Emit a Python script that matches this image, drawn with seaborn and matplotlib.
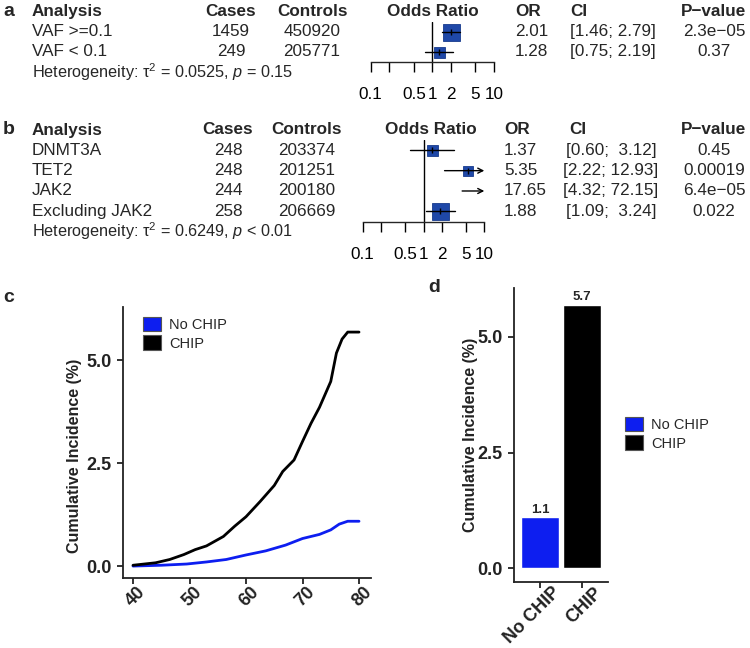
import numpy as np
import pandas as pd
import matplotlib
matplotlib.use("Agg")
import matplotlib.pyplot as plt
import matplotlib.transforms as mtransforms
from matplotlib.patches import Patch
from matplotlib.ticker import NullLocator
import seaborn as sns

# ===========================================================================
# DATA
# ===========================================================================
# panel a: forest plot by VAF
a_labels = ["VAF >=0.1", "VAF < 0.1"]
a_cases = [1459, 249]
a_controls = [450920, 205771]
a_or = [2.01, 1.28]
a_lo = [1.46, 0.75]
a_hi = [2.79, 2.19]
a_p = ["2.3e\u221205", "0.37"]
a_tau2 = 0.0525
a_phet = "= 0.15"

# panel b: forest plot by gene
b_labels = ["DNMT3A", "TET2", "JAK2", "Excluding JAK2"]
b_cases = [248, 248, 244, 258]
b_controls = [203374, 201251, 200180, 206669]
b_or = [1.37, 5.35, 17.65, 1.88]
b_lo = [0.60, 2.22, 4.32, 1.09]
b_hi = [3.12, 12.93, 72.15, 3.24]
b_p = ["0.45", "0.00019", "6.4e\u221205", "0.022"]
b_tau2 = 0.6249
b_phet = "< 0.01"

or_ticks = [0.1, 0.2, 0.5, 1, 2, 5, 10]
or_ticklabels = ["0.1", "", "0.5", "1", "2", "5", "10"]

# panel c: cumulative incidence curves
groups = ["No CHIP", "CHIP"]
age_nochip = [40, 45, 49.5, 53, 56.5, 60, 63.5, 67, 70, 73, 75, 76.5, 78, 80]
inc_nochip = [0.0, 0.02, 0.05, 0.10, 0.16, 0.27, 0.37, 0.51, 0.67, 0.77, 0.88, 1.02, 1.09, 1.09]
age_chip = [40, 44, 46.5, 49, 51, 53, 56, 58, 60, 62.5, 65, 66.5, 68.5, 70, 71.5, 73, 75, 76, 77, 78, 80]
inc_chip = [0.02, 0.08, 0.16, 0.28, 0.40, 0.49, 0.72, 0.97, 1.20, 1.57, 1.96, 2.30, 2.58,
            3.03, 3.47, 3.86, 4.49, 5.18, 5.52, 5.69, 5.69]
c_xticks = [40, 50, 60, 70, 80]
inc_ticks = [0.0, 2.5, 5.0]

# panel d: cumulative incidence at 80
bar_values = [1.1, 5.7]

# ===========================================================================
# STYLE
# ===========================================================================
sns.set_theme(style="ticks")
plt.rcParams["font.family"] = ["Liberation Sans", "DejaVu Sans"]
plt.rcParams["mathtext.fontset"] = "custom"
plt.rcParams["mathtext.rm"] = "Liberation Sans"
plt.rcParams["mathtext.it"] = "Liberation Sans:italic"
plt.rcParams["mathtext.bf"] = "Liberation Sans:bold"

BLUE = "#0d1ef0"
BOX = "#1f48a8"
BOX_EDGE = "#173a8c"
FS = 12.3
a_box_px = [17, 11]
b_box_px = [11, 10.5, 11, 17]

W, H = 750, 648
fig = plt.figure(figsize=(W / 100, H / 100), dpi=100)


def px_rect(x0, y0, x1, y1):
    return [x0 / W, 1 - y1 / H, (x1 - x0) / W, (y1 - y0) / H]


canvas = fig.add_axes([0, 0, 1, 1])
canvas.set_xlim(0, W)
canvas.set_ylim(H, 0)
canvas.axis("off")


def ci_strings(lo, hi):
    w = max(len(f"{h:.2f}") for h in hi)
    return [f"[{l:.2f}; {h:>{w}.2f}]" for l, h in zip(lo, hi)]


def table(y0, pitch, col, labels, cases, controls, est, lo, hi, pvals, tau2, phet):
    bold = dict(fontsize=FS, fontweight="bold", va="center")
    canvas.text(col["label"], y0, "Analysis", ha="left", **bold)
    canvas.text(col["cases"], y0, "Cases", ha="center", **bold)
    canvas.text(col["controls"], y0, "Controls", ha="center", **bold)
    canvas.text(col["forest"], y0, "Odds Ratio", ha="center", **bold)
    canvas.text(col["or"], y0, "OR", ha="left", **bold)
    canvas.text(col["ci_head"], y0, "CI", ha="left", **bold)
    canvas.text(col["p"], y0, "P\u2212value", ha="center", **bold)
    reg = dict(fontsize=FS, va="center")
    for i, (lab, ca, co, e, ci, p) in enumerate(zip(labels, cases, controls, est,
                                                     ci_strings(lo, hi), pvals)):
        y = y0 + pitch * (i + 1)
        canvas.text(col["label"], y, lab, ha="left", **reg)
        canvas.text(col["cases"], y, str(ca), ha="center", **reg)
        canvas.text(col["controls"], y, str(co), ha="center", **reg)
        canvas.text(col["or"], y, f"{e:.2f}", ha="left", **reg)
        canvas.text(col["ci"], y, ci, ha="center", **reg)
        canvas.text(col["p"], y, p, ha="center", **reg)
    y = y0 + pitch * (len(labels) + 1)
    canvas.text(col["label"], y, f"Heterogeneity: \u03c4$^2$ = {tau2:.4f}, $p$ {phet}",
                ha="left", fontsize=FS - 0.6, va="center")


def forest(rect, n_rows, base_row, est, lo, hi, box_px):
    ax = fig.add_axes(rect)
    ax.patch.set_alpha(0)
    ax.set_xscale("log")
    ax.set_xlim(0.1, 10)
    ax.set_ylim(base_row, 0.5)
    rows = np.arange(1, n_rows + 1)
    for r, e, l, h, s in zip(rows, est, lo, hi, box_px):
        l_c, h_c = max(l, 0.1), min(h, 10)
        if h > 10:
            ax.annotate("", xy=(10, r), xytext=(l_c, r),
                        arrowprops=dict(arrowstyle="->", lw=1, color="black",
                                        shrinkA=0, shrinkB=0, mutation_scale=9),
                        zorder=4)
        else:
            ax.plot([l_c, h_c], [r, r], color="black", lw=1, zorder=4)
        if 0.1 <= e <= 10:
            ax.plot(e, r, marker="s", ms=s * 0.72, color=BOX, mec=BOX_EDGE, mew=0.6, zorder=3)
            ax.plot(e, r, marker="|", ms=5, mew=1, color="black", zorder=5)
    ax.axvline(1, color="black", lw=1, zorder=2)
    for side in ["top", "left", "right"]:
        ax.spines[side].set_visible(False)
    ax.spines["bottom"].set_linewidth(1)
    ax.set_yticks([])
    ax.set_xticks(or_ticks)
    ax.set_xticklabels(or_ticklabels)
    ax.xaxis.set_minor_locator(NullLocator())
    ax.tick_params(axis="x", direction="out", length=7, width=1, pad=11,
                   labelsize=FS, colors="black")
    return ax


# ===========================================================================
# PANEL a / b : forest plots
# ===========================================================================
a_col = dict(label=31.7, cases=231, controls=312, forest=432.5, **{"or": 515},
             ci_head=570, ci=613, p=714)
b_col = dict(label=31.7, cases=228, controls=307, forest=431, **{"or": 504},
             ci_head=569, ci=611, p=714)

a_y0, a_pitch = 11.7, 20.0
table(a_y0, a_pitch, a_col, a_labels, a_cases, a_controls, a_or, a_lo, a_hi, a_p, a_tau2, a_phet)
forest(px_rect(370.7, a_y0 + 0.5 * a_pitch, 494, 61.7), len(a_labels),
       (61.7 - a_y0) / a_pitch, a_or, a_lo, a_hi, a_box_px)

b_y0, b_pitch = 130.0, 20.33
table(b_y0, b_pitch, b_col, b_labels, b_cases, b_controls, b_or, b_lo, b_hi, b_p, b_tau2, b_phet)
forest(px_rect(362.7, b_y0 + 0.5 * b_pitch, 484.3, 222.3), len(b_labels),
       (222.3 - b_y0) / b_pitch, b_or, b_lo, b_hi, b_box_px)

# panel letters
for lx, ly, letter in [(3, 12, "a"), (3, 130, "b"), (3, 297, "c"), (428, 288, "d")]:
    canvas.text(lx, ly, letter, fontsize=14, fontweight="bold", ha="left", va="center")

pal = {groups[0]: BLUE, groups[1]: "black"}


def style_axes(ax, dx, dy):
    sns.despine(ax=ax)
    for side in ["left", "bottom"]:
        ax.spines[side].set_linewidth(1.3)
        ax.spines[side].set_color("#222222")
    ax.tick_params(axis="both", length=4.5, width=1.3, colors="#222222",
                   labelsize=13, labelcolor="#222222")
    ax.tick_params(axis="x", pad=2)
    shift = mtransforms.ScaledTranslation(dx / 100, dy / 100, fig.dpi_scale_trans)
    for lab in ax.get_xticklabels() + ax.get_yticklabels():
        lab.set_fontweight("bold")
    for lab in ax.get_xticklabels():
        lab.set_rotation(45)
        lab.set_ha("right")
        lab.set_va("top")
        lab.set_rotation_mode("anchor")
        lab.set_transform(lab.get_transform() + shift)
    ax.set_xlabel("")
    ax.set_ylabel("Cumulative Incidence (%)", fontsize=11.5, fontweight="bold", color="#222222")


def square_legend(x_px, y_px):
    handles = [Patch(facecolor=pal[g], edgecolor="#555555", lw=0.8, label=g) for g in groups]
    fig.legend(handles=handles, loc="upper left", bbox_to_anchor=(x_px / W, 1 - y_px / H),
               frameon=False, fontsize=10.5, handlelength=1.2, handleheight=1.15,
               handletextpad=0.6, labelspacing=0.22, borderpad=0, borderaxespad=0)


# ===========================================================================
# PANEL c : cumulative incidence curves
# ===========================================================================
df_c = pd.DataFrame({
    "age": age_nochip + age_chip,
    "inc": inc_nochip + inc_chip,
    "group": [groups[0]] * len(age_nochip) + [groups[1]] * len(age_chip),
})
ax_c = fig.add_axes(px_rect(123, 307, 371, 578))
sns.lineplot(data=df_c, x="age", y="inc", hue="group", palette=pal, hue_order=groups,
             estimator=None, lw=2.0, legend=False, ax=ax_c)
ax_c.set_xlim(38.23, 82.12)
ax_c.set_ylim(-0.29, 6.30)
ax_c.set_xticks(c_xticks)
ax_c.set_yticks(inc_ticks)
ax_c.set_yticklabels([f"{t:.1f}" for t in inc_ticks])
style_axes(ax_c, 4, 3)
ax_c.yaxis.set_label_coords(-0.165, 0.45)
square_legend(143, 317)

# ===========================================================================
# PANEL d : bar chart
# ===========================================================================
df_d = pd.DataFrame({"group": groups, "value": bar_values})
ax_d = fig.add_axes(px_rect(514, 288, 608, 582))
sns.barplot(data=df_d, x="group", y="value", hue="group", palette=pal, order=groups,
            hue_order=groups, width=0.89, saturation=1, legend=False, ax=ax_d)
for cont in ax_d.containers:
    ax_d.bar_label(cont, fmt="%.1f", fontsize=9.5, fontweight="bold", padding=1)
ax_d.set_xlim(-0.62, 1.62)
ax_d.set_ylim(-0.30, 6.06)
ax_d.set_yticks(inc_ticks)
ax_d.set_yticklabels([f"{t:.1f}" for t in inc_ticks])
style_axes(ax_d, 12, 7)
ax_d.yaxis.set_label_coords(-0.385, 0.5)
square_legend(625, 417)

plt.savefig("out.png", dpi=100)
